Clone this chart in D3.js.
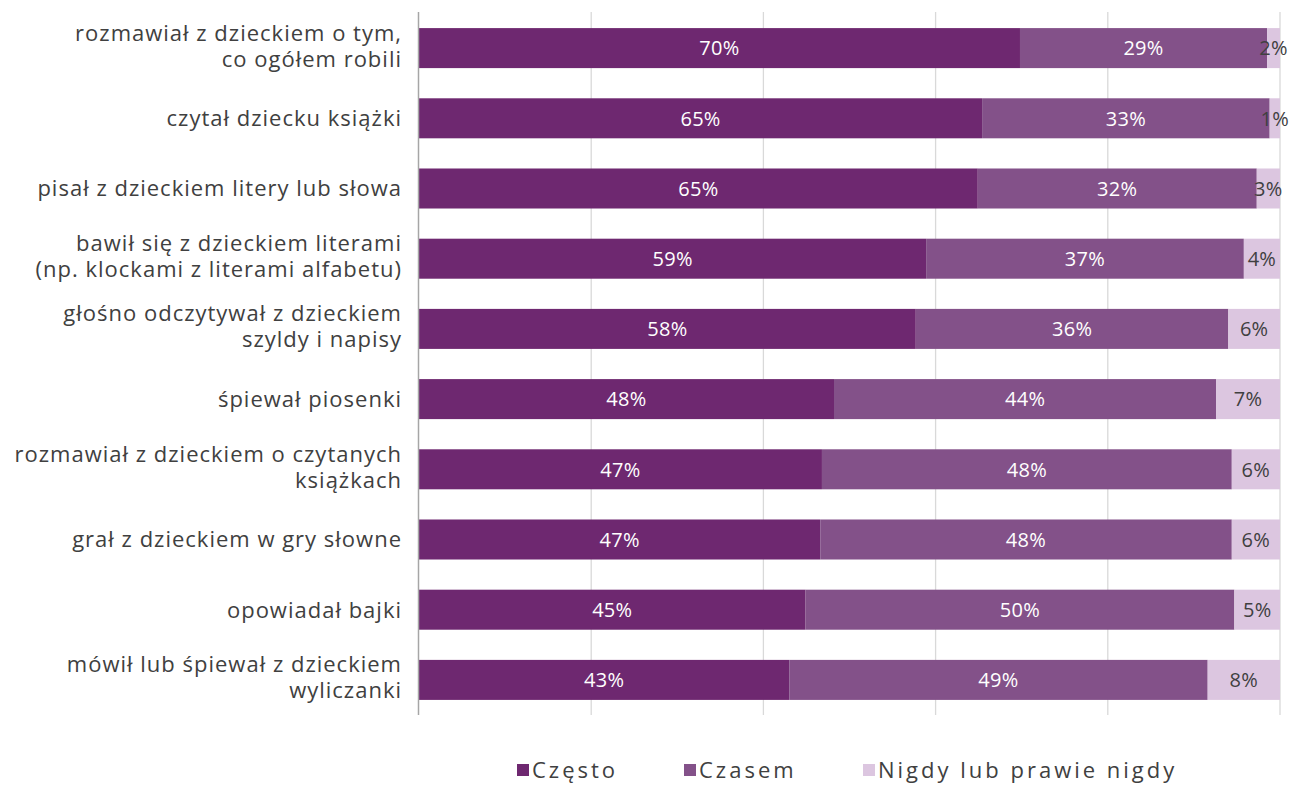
<!DOCTYPE html>
<html>
<head>
<meta charset="utf-8">
<script src="https://cdn.jsdelivr.net/npm/d3@7"></script>
<style>
  body { margin: 0; background: #fff; }
  svg { display: block; font-family: "Open Sans", Lato, sans-serif; }
  .cat { font-size: 22px; fill: #404040; letter-spacing: 1px; }
  .val { font-size: 20px; letter-spacing: 0.3px; }
  .leg { font-size: 22px; fill: #404040; letter-spacing: 3px; }
</style>
</head>
<body>
<svg id="chart" width="1305" height="789"></svg>
<script>
/* ── Data ─────────────────────────────────────────────────────────────────── */

const CATEGORIES = [
  ["rozmawiał z dzieckiem o tym,", "co ogółem robili"],
  ["czytał dziecku książki"],
  ["pisał z dzieckiem litery lub słowa"],
  ["bawił się z dzieckiem literami", "(np. klockami z literami alfabetu)"],
  ["głośno odczytywał z dzieckiem", "szyldy i napisy"],
  ["śpiewał piosenki"],
  ["rozmawiał z dzieckiem o czytanych", "książkach"],
  ["grał z dzieckiem w gry słowne"],
  ["opowiadał bajki"],
  ["mówił lub śpiewał z dzieckiem", "wyliczanki"],
];

const CZESTO = [69.8, 65.4, 64.9, 58.9, 57.7, 48.2, 46.8, 46.6, 44.9, 43.0];
const CZASEM = [28.7, 33.4, 32.4, 36.9, 36.3, 44.4, 47.6, 47.8, 49.8, 48.6];
const NIGDY  = [1.5, 1.2, 2.7, 4.2, 6.0, 7.4, 5.6, 5.6, 5.3, 8.4];

const SERIES = ["Często", "Czasem", "Nigdy lub prawie nigdy"];
const COLORS = ["#6e2870", "#835189", "#dcc6e0"];
const LABEL_COLORS = ["#ffffff", "#ffffff", "#404040"];
const X_TICKS = [0, 20, 40, 60, 80, 100];

/* ── Layout ───────────────────────────────────────────────────────────────── */

const svg = d3.select("#chart");
const m = { left: 419, right: 1280, top: 13, bottom: 715 };

const x = d3.scaleLinear().domain([0, 100]).range([m.left, m.right]);
const y = d3
  .scaleBand()
  .domain(d3.range(CATEGORIES.length))
  .range([m.top, m.bottom])
  .paddingInner(0.43)
  .paddingOuter(0.215);

const rows = CATEGORIES.map((c, i) => ({
  i,
  vals: [CZESTO[i], CZASEM[i], NIGDY[i]],
}));

// gridlines
svg
  .append("g")
  .selectAll("line")
  .data(X_TICKS.slice(1))
  .join("line")
  .attr("x1", (d) => x(d))
  .attr("x2", (d) => x(d))
  .attr("y1", 12)
  .attr("y2", 715)
  .attr("stroke", "#d9d9d9")
  .attr("stroke-width", 1.3);

// bars
const seg = [];
rows.forEach((r) => {
  let acc = 0;
  r.vals.forEach((v, s) => {
    seg.push({ i: r.i, s, x0: acc, x1: acc + v, v });
    acc += v;
  });
});

svg
  .append("g")
  .selectAll("rect")
  .data(seg)
  .join("rect")
  .attr("x", (d) => x(d.x0))
  .attr("width", (d) => x(d.x1) - x(d.x0))
  .attr("y", (d) => y(d.i))
  .attr("height", y.bandwidth())
  .attr("fill", (d) => COLORS[d.s]);

// value labels
svg
  .append("g")
  .selectAll("text")
  .data(seg)
  .join("text")
  .attr("class", "val")
  .attr("x", (d) => (x(d.x0) + x(d.x1)) / 2)
  .attr("y", (d) => y(d.i) + y.bandwidth() / 2)
  .attr("dy", "0.36em")
  .attr("text-anchor", "middle")
  .attr("fill", (d) => LABEL_COLORS[d.s])
  .text((d) => Math.round(d.v) + "%");

// left axis line
svg
  .append("line")
  .attr("x1", 418.5)
  .attr("x2", 418.5)
  .attr("y1", 12)
  .attr("y2", 715)
  .attr("stroke", "#a6a6a6")
  .attr("stroke-width", 1.5);

// category labels
const cat = svg
  .append("g")
  .selectAll("text")
  .data(CATEGORIES)
  .join("text")
  .attr("class", "cat")
  .attr("text-anchor", "end")
  .attr("x", 402)
  .attr("y", (d, i) => y(i) + y.bandwidth() / 2);

cat
  .selectAll("tspan")
  .data((d) => d.map((t, k) => ({ t, k, n: d.length })))
  .join("tspan")
  .attr("x", 402)
  .attr("dy", (d) =>
    d.k === 0 ? (d.n > 1 ? "-0.34em" : "0.36em") : "1.18em",
  )
  .text((d) => d.t);

/* ── Legend ───────────────────────────────────────────────────────────────── */

const LEG_X = [517, 684, 863];
const leg = svg
  .append("g")
  .selectAll("g")
  .data(SERIES)
  .join("g")
  .attr("transform", (d, i) => `translate(${LEG_X[i]},770)`);

leg
  .append("rect")
  .attr("y", -6)
  .attr("width", 12)
  .attr("height", 12)
  .attr("fill", (d, i) => COLORS[i]);

leg
  .append("text")
  .attr("class", "leg")
  .attr("x", 15)
  .attr("dy", "0.36em")
  .text((d) => d);
</script>
</body>
</html>
